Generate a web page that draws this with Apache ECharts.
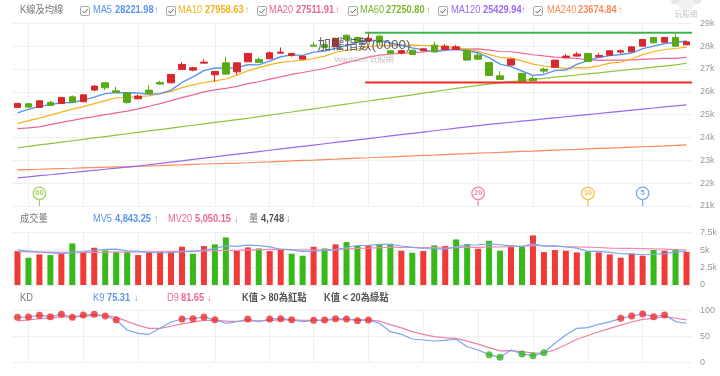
<!DOCTYPE html>
<html><head><meta charset="utf-8">
<script src="https://cdn.jsdelivr.net/npm/echarts@6/dist/echarts.min.js"></script>
<style>html,body{margin:0;padding:0;background:#fff}#c{width:720px;height:376px}</style>
</head><body><div id="c"></div>
<script>
const categories = ['09/15','09/16','09/17','09/18','09/19','09/22','09/23','09/24','09/25','09/26',
 '09/30','10/01','10/02','10/03','10/07','10/08','10/09','10/13','10/14','10/15',
 '10/16','10/17','10/20','10/21','10/22','10/23','10/27','10/28','10/29','10/30',
 '10/31','11/03','11/04','11/05','11/06','11/07','11/10','11/11','11/12','11/13',
 '11/14','11/17','11/18','11/19','11/20','11/21','11/24','11/25','11/26','11/27',
 '11/28','12/01','12/02','12/03','12/04','12/05','12/08','12/09','12/10','12/11',
 '12/12','12/15'];
const vGridIdx = [1,6,11,18,23,27,32,37,42,47,52,57];

const open = [25318,25476,25318,25537,25493,25782,25563,26075,26394,26044,
 25957,25694,26075,26412,26394,26981,26950,27256,26744,27269,
 26876,27313,27418,27444,27694,27593,27431,28044,28060,27980,
 28481,28380,28232,28438,27794,27700,27825,27794,28044,27856,
 27856,27825,27606,27287,26701,27169,26806,26587,26994,27075,
 27506,27563,27681,27532,27606,27738,27751,28000,28381,28175,
 28381,28057];
const close = [25493,25331,25607,25406,25756,25550,25869,26250,26176,25974,
 25537,25813,25931,26338,26762,27199,27051,27300,26893,26775,
 27269,27681,27287,27707,27738,27681,27563,28000,27950,28330,
 28293,28200,28337,28175,27681,27800,27637,27882,27751,28000,
 27969,27388,27431,26718,26543,27431,26438,26482,26906,27388,
 27563,27650,27331,27593,27794,27800,27969,28293,28144,28381,
 28000,28188];
const low = [25290,25288,25300,25375,25470,25544,25550,26031,26075,25960,
 25463,25680,25920,26325,26380,26970,26893,27245,26438,26760,
 26744,27300,27270,27430,27680,27532,27420,27990,27900,27960,
 28250,28150,28200,28050,27660,27650,27620,27780,27740,27850,
 27840,27370,27420,26700,26530,27150,26412,26460,26806,27060,
 27462,27550,27320,27520,27590,27663,27740,27990,28130,28160,
 27990,28040];
const high = [25520,25490,25638,25607,25770,25843,25880,26294,26410,26219,
 25970,25887,26294,26482,26775,27300,27094,27431,26900,27532,
 27280,27700,27506,27769,27943,27707,27580,28188,28100,28360,
 28500,28420,28582,28500,27800,27850,27840,27900,28188,28088,
 28057,27840,27707,27300,26906,27450,26820,26688,27068,27400,
 27650,27738,27700,27707,27810,27856,27980,28310,28400,28400,
 28525,28220];

const ma5 = [25080,25230,25360,25440,25519,25530,25638,25766,25920,25964,
 25961,25950,25886,25919,26076,26409,26656,26930,27041,27044,
 27058,27184,27181,27344,27536,27619,27595,27738,27786,27905,
 28027,28155,28222,28267,28137,28039,27926,27835,27750,27814,
 27848,27798,27708,27501,27210,27102,26912,26722,26760,26929,
 26955,27198,27368,27505,27586,27634,27697,27890,28000,28117,
 28157,28222];
const ma10 = [24609,24741,24850,24981,25113,25244,25353,25484,25616,25741,
 25746,25794,25826,25919,26020,26185,26303,26408,26480,26560,
 26733,26920,27056,27192,27290,27338,27389,27459,27565,27721,
 27823,27875,27980,28027,28021,28033,28040,28029,28009,27976,
 27943,27862,27771,27626,27512,27475,27355,27215,27131,27069,
 27029,27055,27045,27133,27258,27295,27448,27629,27753,27852,
 27896,27959];
const ma20 = [24391,24421,24465,24566,24662,24749,24837,24916,24999,25078,
 25156,25253,25366,25484,25616,25747,25865,25996,26084,26151,
 26239,26357,26441,26556,26655,26762,26846,26934,27022,27140,
 27278,27397,27518,27610,27656,27686,27715,27744,27787,27848,
 27883,27868,27876,27826,27766,27754,27698,27622,27570,27523,
 27486,27459,27408,27379,27385,27385,27401,27422,27442,27461,
 27462,27512];
const ma60 = [23551,23612,23673,23734,23796,23857,23918,23979,24041,24102,
 24163,24224,24286,24347,24408,24474,24535,24596,24658,24719,
 24780,24841,24911,24981,25051,25117,25187,25253,25323,25393,
 25463,25533,25598,25668,25734,25804,25869,25939,26009,26079,
 26149,26219,26285,26338,26390,26443,26491,26543,26591,26639,
 26688,26736,26784,26832,26884,26933,26981,27029,27081,27129,
 27178,27251];
const ma120 = [22234,22278,22326,22369,22418,22466,22514,22562,22610,22658,
 22706,22750,22807,22864,22921,22978,23039,23096,23153,23214,
 23271,23328,23384,23441,23498,23555,23612,23669,23726,23783,
 23839,23896,23953,24010,24067,24124,24181,24238,24294,24351,
 24408,24465,24522,24570,24618,24666,24714,24763,24811,24859,
 24907,24955,25003,25051,25099,25147,25196,25244,25292,25340,
 25384,25430];
const ma240 = [22582,22597,22610,22628,22641,22654,22671,22684,22698,22715,
 22728,22746,22759,22772,22789,22802,22820,22838,22851,22864,
 22877,22894,22916,22934,22956,22973,22995,23013,23034,23052,
 23074,23096,23113,23135,23153,23174,23192,23214,23231,23253,
 23275,23293,23314,23332,23349,23371,23389,23406,23428,23445,
 23463,23480,23502,23520,23538,23555,23577,23594,23612,23629,
 23651,23675];

const boxStartIdx = 32;
const resistanceLevel = 28582;
const supportLevel = 26412;
const maPeriods = [5, 10, 20, 60];
const maLegendValues = ['28221.98','27958.63','27511.91','27250.80','25429.94','23674.84'];

const volume = [4865,3912,4388,4293,4627,5962,4675,5343,4961,4770,
 4770,4293,4627,4770,4675,5486,4484,5581,5820,6822,
 4961,5391,5247,4865,5152,4484,4197,5486,5247,5820,
 6153,5629,5629,5867,5915,4913,4627,4865,5677,5581,
 6536,5867,5199,6345,4913,5677,5486,7108,4723,5009,
 4913,4675,4770,4675,4388,3912,4531,4197,5009,4913,
 5152,4748];
const volDir = [1,-1,1,-1,1,-1,1,1,-1,-1,
 -1,1,1,1,1,1,-1,1,-1,-1,
 1,1,-1,1,1,-1,-1,1,-1,1,
 -1,-1,1,-1,-1,1,-1,1,-1,1,
 -1,-1,1,-1,-1,1,-1,1,1,1,
 1,1,-1,1,1,1,1,1,-1,1,
 -1,1];
const mv5 = [5050,4850,4700,4600,4500,4636,4789,4980,5114,5142,
 4904,4827,4684,4646,4627,4770,4808,4999,5209,5639,
 5534,5715,5648,5457,5123,5028,4789,4837,4913,5047,
 5381,5667,5696,5820,5839,5591,5390,5237,5199,5133,
 5457,5705,5772,5906,5772,5600,5524,5906,5581,5601,
 5448,5286,4818,4808,4684,4484,4455,4341,4407,4512,
 4760,4843];
const mv20 = [4780,4760,4740,4720,4700,4700,4690,4690,4700,4710,
 4720,4730,4750,4770,4800,4830,4860,4890,4920,4956,
 4961,5035,5078,5107,5133,5059,5035,5042,5056,5109,
 5178,5245,5295,5350,5412,5383,5390,5355,5347,5285,
 5364,5388,5385,5459,5448,5507,5572,5653,5627,5586,
 5524,5476,5433,5374,5297,5247,5243,5209,5176,5142,
 5073,5050];

const kValues = [86.6,87.2,90.4,87.8,92.4,86.6,91,92.4,89.1,81.5,
 62.4,56,54.2,65.6,77.7,83.4,84,87.2,82.1,75.2,
 78.2,83.4,78.2,83.4,84,82.1,78.2,80.9,81.5,84,
 83.4,80.2,81.5,75.2,59.2,54.2,45.2,43.3,41.4,42.7,
 44.7,30.5,24.2,15.3,10.3,24.2,16.6,13.4,19.1,37,
 52.9,65.6,66.8,73.3,78,84.7,89.1,92.9,87.8,91,
 78.5,75.31];
const dValues = [80,81.5,84,85,87.5,87.2,88.5,89.8,89.6,87,
 78.8,71.2,65.5,65.5,69.6,74.2,77.5,80.7,81.2,79.2,
 78.9,80.4,79.7,80.9,81.9,82,80.7,80.8,81,82,
 82.5,81.7,81.6,79.5,72.7,66.5,59.4,54,49.8,47.4,
 46.5,41.2,35.5,28.8,22.6,23.1,21,18.5,18.7,24.8,
 34.2,44.7,52,59.1,65.4,71.8,77.6,82.7,84.4,87.8,
 84.8,81.65];

const priceTicks = {min: 21000, max: 29000, step: 1000};
const volTicks = {min: 0, max: 7500, step: 2500};
const kdTicks = {min: 0, max: 100, step: 50};

// ---------- styles ----------
const FONT = "'Liberation Sans', Arial, 'Noto Sans CJK TC', sans-serif";
const C = {
  ma5: '#5b93f0', ma10: '#f6b21c', ma20: '#ef6496', ma60: '#8cc63a', ma120: '#9a68f2', ma240: '#fb8a5a',
  up: '#d8282c', down: '#5aa915', volUp: '#f03a38', volDown: '#36b919',
  grid: '#eeeff1', label: '#9a9a9a'
};
const n = categories.length;
const L = 12, R = 28;
const grids = [
  {left: L, right: R, top: 23.3, height: 182.7},
  {left: L, right: R, top: 232.7, height: 52.3},
  {left: L, right: R, top: 310.3, height: 52.4}
];
const kFmt = v => v === 0 ? '0' : (v / 1000) + 'k';

function catAxis(g) {
  return {type: 'category', gridIndex: g, data: categories, boundaryGap: true,
    axisLine: {show: false}, axisTick: {show: false}, axisLabel: {show: false}, splitLine: {show: false}};
}
function valAxis(g, t, fmt) {
  return {type: 'value', gridIndex: g, position: 'right', min: t.min, max: t.max, interval: t.step,
    axisLine: {show: false}, axisTick: {show: false},
    axisLabel: {color: C.label, fontSize: 9, margin: 8, fontFamily: FONT, formatter: fmt},
    splitLine: {lineStyle: {color: C.grid, width: 1}}};
}
function vLines() {
  return {silent: true, symbol: 'none', z: 1, label: {show: false}, animation: false,
    lineStyle: {color: C.grid, width: 1, type: 'solid'},
    emphasis: {disabled: true},
    data: vGridIdx.map(i => ({xAxis: categories[i]}))};
}
function maLine(name, data, color, x, y, extra) {
  return Object.assign({type: 'line', name, data, xAxisIndex: x, yAxisIndex: y, showSymbol: false,
    symbol: 'none', lineStyle: {color, width: 1.2}, itemStyle: {color}, z: 3, silent: true}, extra || {});
}

const candleData = categories.map((c, i) => [open[i], close[i], low[i], high[i]]);
const volData = volume.map((v, i) => ({value: v, itemStyle: {color: volDir[i] > 0 ? C.volUp : C.volDown}}));
const hiDots = kValues.map((v, i) => v > 80 ? [categories[i], v] : null).filter(Boolean);
const loDots = kValues.map((v, i) => v < 20 ? [categories[i], v] : null).filter(Boolean);
const markerColors = {5: C.ma5, 10: C.ma10, 20: C.ma20, 60: C.ma60};
const markerData = maPeriods.map(p => ({value: [categories[n - p], priceTicks.min], name: String(p),
  itemStyle: {color: '#fff', borderColor: markerColors[p], borderWidth: 1.3},
  label: {color: markerColors[p]}}));
const stemData = maPeriods.map(p => ({value: [categories[n - p], priceTicks.min], itemStyle: {color: markerColors[p]}}));
const xs = boxStartIdx - 0.3, xe = n - 0.5;

// ---------- header graphics ----------
const G = [];
const SX = 0.88;
function txt(x, y, text, color, size, weight, align, sx) {
  G.push({type: 'text', x, y, scaleX: sx || 1, z: 100, silent: true, style: {text, fill: color, fontSize: size || 10,
    fontWeight: weight || 'normal', fontFamily: FONT, verticalAlign: 'middle', align: align || 'left'}});
}
function checkbox(x, y) {
  G.push({type: 'rect', z: 100, silent: true, shape: {x: x + 0.5, y: y + 0.5, width: 9, height: 9, r: 1.5},
    style: {fill: '#fff', stroke: '#aaa', lineWidth: 1}});
  G.push({type: 'polyline', z: 100, silent: true, shape: {points: [[x + 2.5, y + 5], [x + 4.3, y + 7], [x + 7.8, y + 3]]},
    style: {stroke: '#666', lineWidth: 1, fill: null}});
}
txt(20, 10.5, 'K線及均線', '#7a7a7a', 10.5, 'normal', 'left', SX);
const maHdr = [
  ['MA5', C.ma5, 80, 93, 115, 154],
  ['MA10', C.ma10, 166, 178, 205, 245],
  ['MA20', C.ma20, 257, 269, 296, 335],
  ['MA60', '#7ab62c', 348, 360, 386, 426],
  ['MA120', C.ma120, 438, 451, 483, 521],
  ['MA240', C.ma240, 533, 547, 578, 618]
];
maHdr.forEach((h, i) => {
  checkbox(h[2], 6);
  txt(h[3], 10.5, h[0], h[1], 10.5, 'normal', 'left', SX);
  txt(h[4], 10.5, maLegendValues[i], h[1], 10.5, 'bold', 'left', SX);
  txt(h[5], 10.5, '↑', h[1], 10, 'normal', 'left', SX);
});
txt(20, 219, '成交量', '#7a7a7a', 10.5, 'normal', 'left', SX);
txt(93, 219, 'MV5', C.ma5, 10.5, 'normal', 'left', SX); txt(115, 219, '4,843.25', C.ma5, 10.5, 'bold', 'left', SX); txt(154, 219, '↑', C.ma5, 10, 'normal', 'left', SX);
txt(168, 219, 'MV20', C.ma20, 10.5, 'normal', 'left', SX); txt(195, 219, '5,050.15', C.ma20, 10.5, 'bold', 'left', SX); txt(234, 219, '↓', C.ma20, 10, 'normal', 'left', SX);
txt(249, 219, '量', '#777', 10.5, 'normal', 'left', SX); txt(261, 219, '4,748', '#555', 10.5, 'bold', 'left', SX); txt(286, 219, '↓', '#777', 10, 'normal', 'left', SX);
txt(20, 298.3, 'KD', '#7a7a7a', 10.5, 'normal', 'left', SX);
txt(93, 298.3, 'K9', C.ma5, 10.5, 'normal', 'left', SX); txt(107, 298.3, '75.31', C.ma5, 10.5, 'bold', 'left', SX); txt(134, 298.3, '↓', C.ma5, 10, 'normal', 'left', SX);
txt(167, 298.3, 'D9', C.ma20, 10.5, 'normal', 'left', SX); txt(181, 298.3, '81.65', C.ma20, 10.5, 'bold', 'left', SX); txt(207, 298.3, '↓', C.ma20, 10, 'normal', 'left', SX);
txt(242, 298.3, 'K值 > 80為紅點', '#555', 10.5, 'bold', 'left', SX);
txt(324, 298.3, 'K值 < 20為綠點', '#555', 10.5, 'bold', 'left', SX);
txt(364, 45, '加權指數(0000)', 'rgba(80,80,80,0.92)', 13.5, 'normal', 'center');
txt(364, 59.5, 'WantGoo 玩股網', '#c4c4c4', 8, 'normal', 'center');
// logo (simplified)
G.push({type: 'circle', z: 90, silent: true, shape: {cx: 686, cy: 3, r: 8}, style: {fill: '#f1f1f1'}});
G.push({type: 'circle', z: 90, silent: true, shape: {cx: 675, cy: 0, r: 4}, style: {fill: '#e6e6e6'}});
G.push({type: 'circle', z: 90, silent: true, shape: {cx: 697, cy: 0, r: 4}, style: {fill: '#e6e6e6'}});
txt(686, 14.5, '玩股網', '#c8c8c8', 7.5, 'normal', 'center');

const option = {
  animation: false,
  backgroundColor: '#fff',
  grid: grids,
  xAxis: [catAxis(0), catAxis(1), catAxis(2),
    {type: 'value', gridIndex: 0, min: -0.5, max: n - 0.5, show: false}],
  yAxis: [valAxis(0, priceTicks, kFmt), valAxis(1, volTicks, kFmt), valAxis(2, kdTicks, v => String(v))],
  graphic: G,
  series: [
    maLine('ma240', ma240, C.ma240, 0, 0, {markLine: vLines()}),
    maLine('ma120', ma120, C.ma120, 0, 0),
    maLine('ma60', ma60, C.ma60, 0, 0),
    maLine('ma20', ma20, C.ma20, 0, 0),
    maLine('ma10', ma10, C.ma10, 0, 0),
    maLine('ma5', ma5, C.ma5, 0, 0, {lineStyle: {color: C.ma5, width: 1.4}}),
    {type: 'candlestick', data: candleData, xAxisIndex: 0, yAxisIndex: 0, barWidth: 7, z: 4, silent: true,
      itemStyle: {color: C.up, color0: C.down, borderColor: C.up, borderColor0: C.down, borderWidth: 1}},
    {type: 'line', data: [[xs, resistanceLevel], [xe, resistanceLevel]], xAxisIndex: 3, yAxisIndex: 0,
      symbol: 'none', lineStyle: {color: '#3cb44b', width: 2}, z: 6, silent: true},
    {type: 'line', data: [[xs, supportLevel], [xe, supportLevel]], xAxisIndex: 3, yAxisIndex: 0,
      symbol: 'none', lineStyle: {color: '#f22a2a', width: 2}, z: 6, silent: true},
    {type: 'scatter', data: stemData, xAxisIndex: 0, yAxisIndex: 0, symbol: 'rect', symbolSize: [1.2, 6.5],
      symbolOffset: [0, -3.2], clip: false, z: 7, silent: true},
    {type: 'scatter', data: markerData, xAxisIndex: 0, yAxisIndex: 0, symbol: 'circle', symbolSize: 12.5,
      symbolOffset: [0, -12.7], clip: false, z: 8, silent: true,
      label: {show: true, position: 'inside', formatter: p => p.name, fontSize: 7.5, fontWeight: 'bold', fontFamily: FONT}},
    {type: 'bar', data: volData, xAxisIndex: 1, yAxisIndex: 1, barWidth: 6, z: 2, silent: true, markLine: vLines()},
    maLine('mv20', mv20, C.ma20, 1, 1, {lineStyle: {color: '#f08ab4', width: 1.2}}),
    maLine('mv5', mv5, C.ma5, 1, 1, {lineStyle: {color: '#7aa7f2', width: 1.2}}),
    maLine('d', dValues, C.ma20, 2, 2, {lineStyle: {color: '#f07fae', width: 1.2}, markLine: vLines()}),
    maLine('k', kValues, C.ma5, 2, 2, {lineStyle: {color: '#76a6f3', width: 1.2}}),
    {type: 'scatter', data: hiDots, xAxisIndex: 2, yAxisIndex: 2, symbolSize: 7, itemStyle: {color: '#ee2e2a'}, z: 6, clip: false, silent: true},
    {type: 'scatter', data: loDots, xAxisIndex: 2, yAxisIndex: 2, symbolSize: 7, itemStyle: {color: '#2fb51d'}, z: 6, clip: false, silent: true}
  ]
};
const chart = echarts.init(document.getElementById('c'), null, {renderer: 'canvas'});
chart.setOption(option);
</script></body></html>
